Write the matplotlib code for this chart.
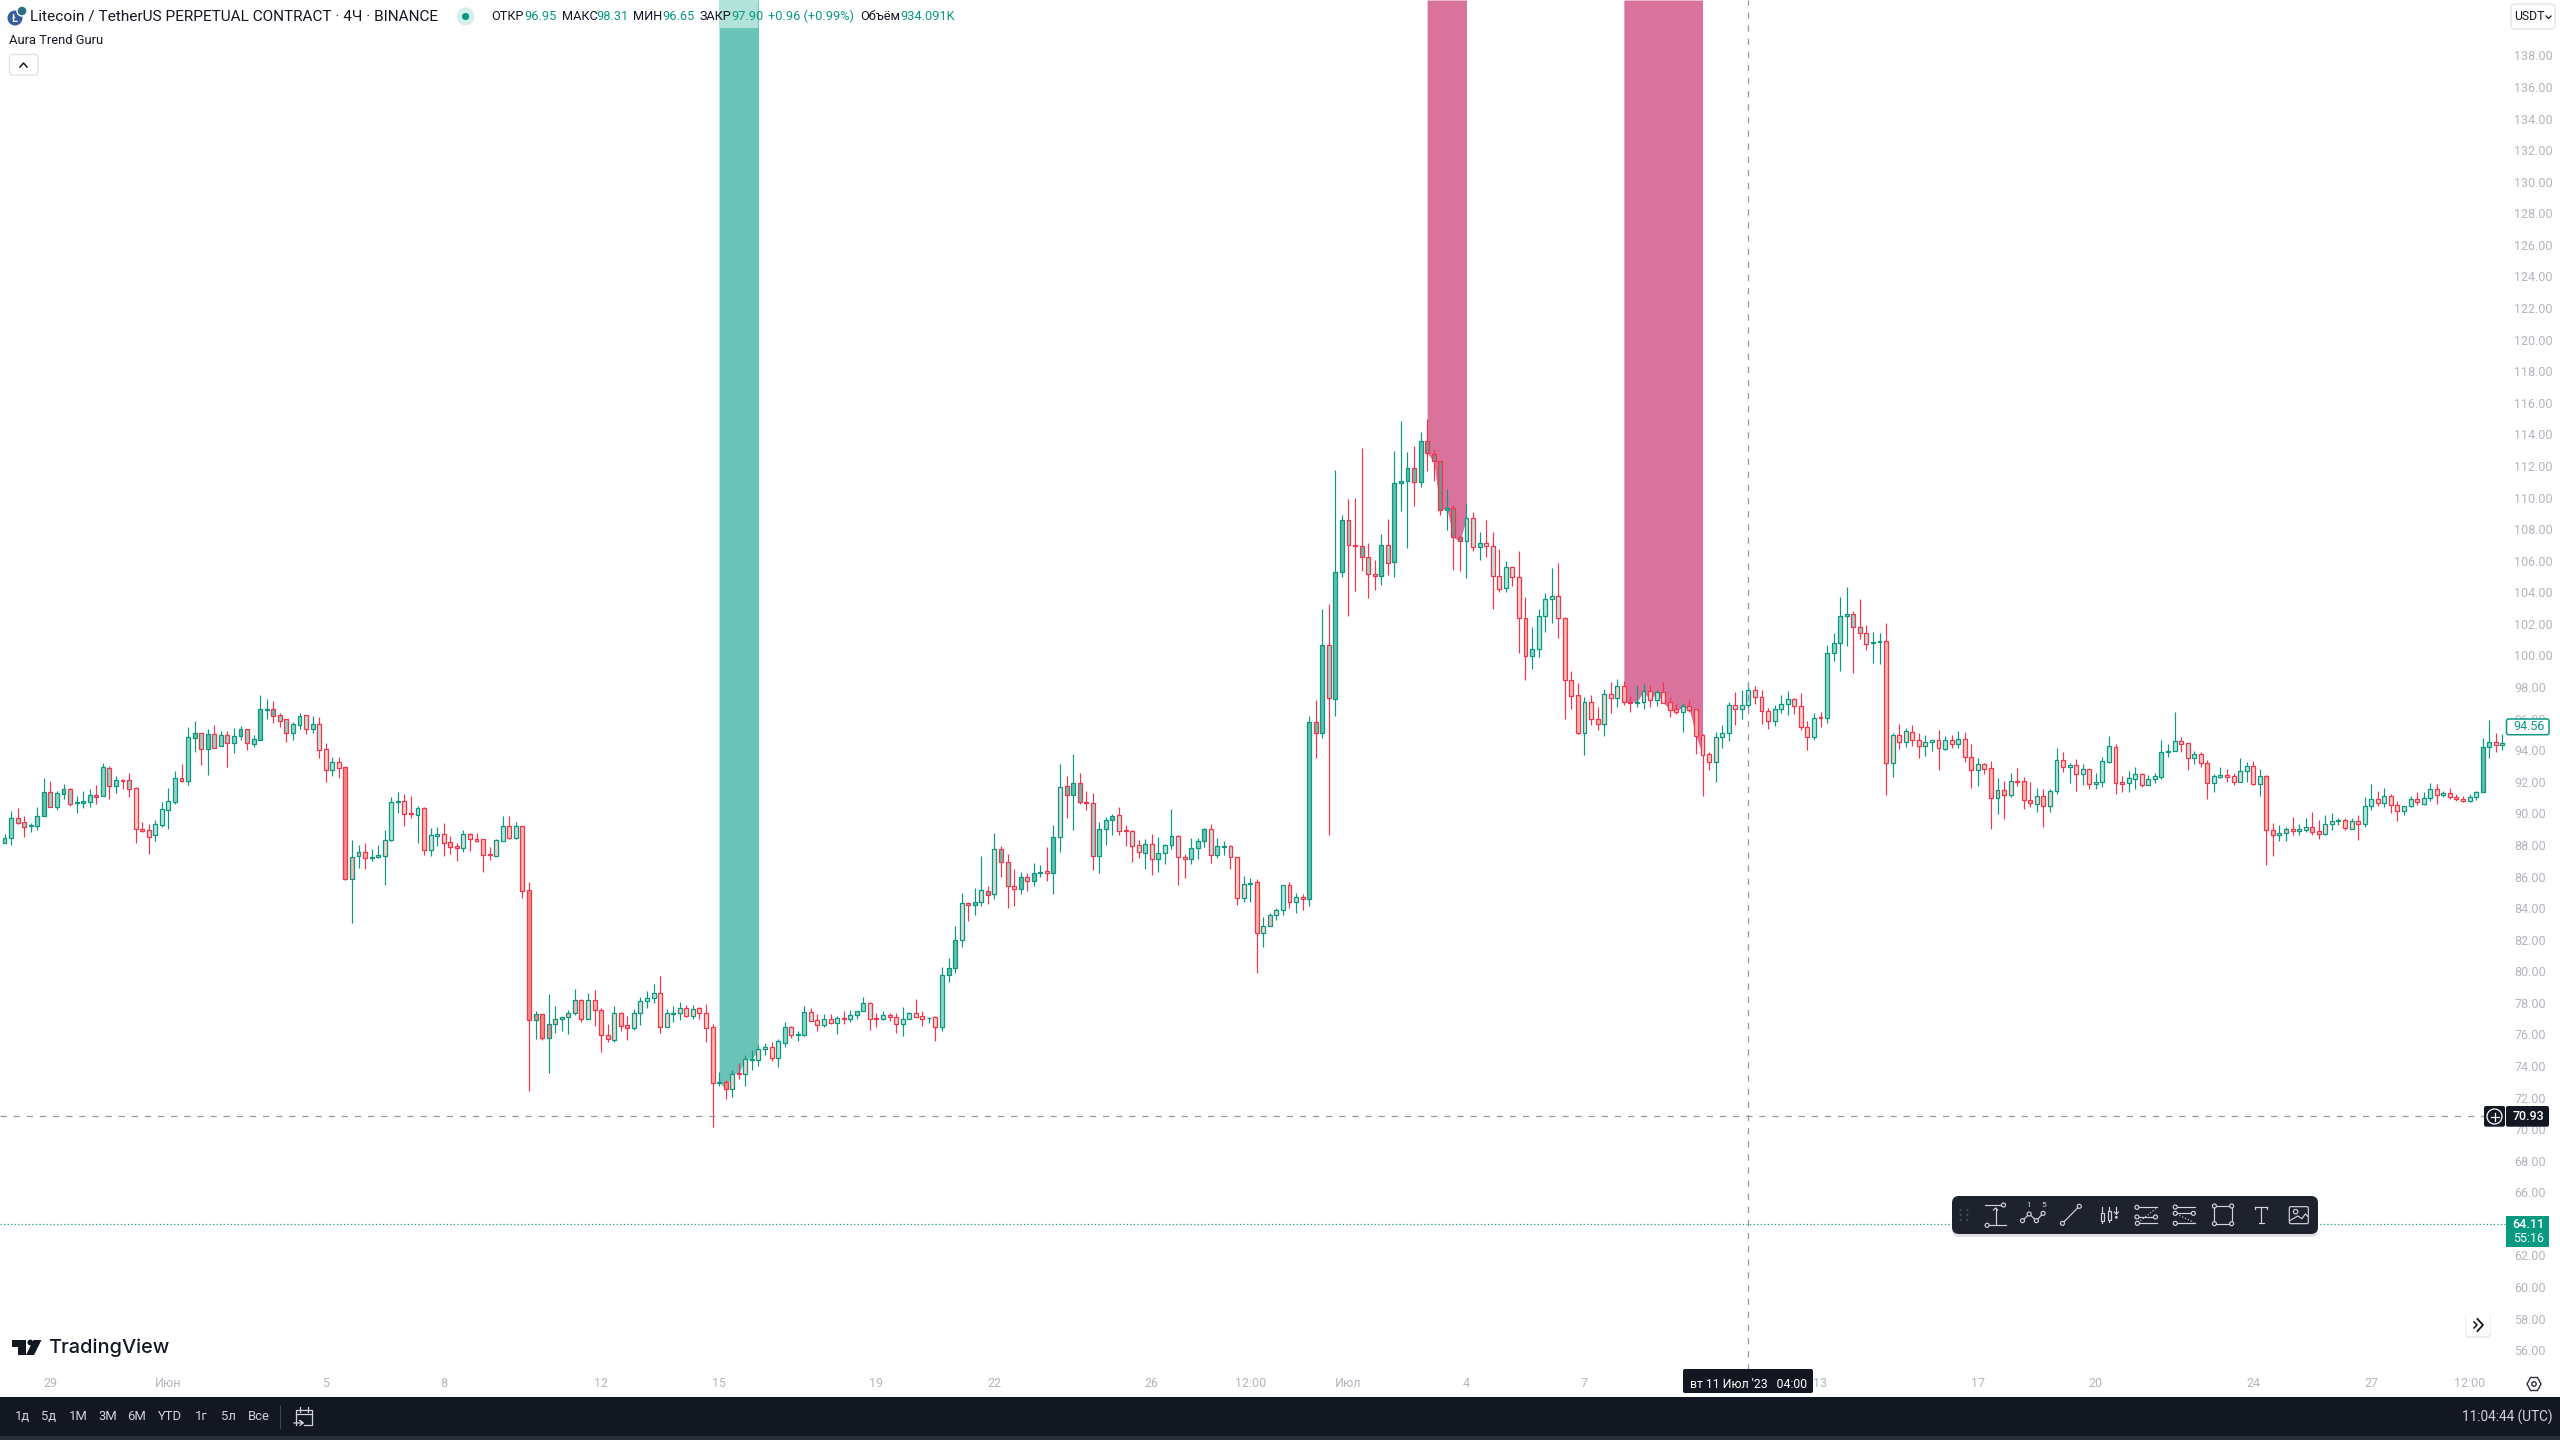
import matplotlib
matplotlib.use("Agg")
import matplotlib.pyplot as plt
from matplotlib.patches import FancyBboxPatch, Rectangle, Circle, Polygon

FONT = ['Roboto', 'DejaVu Sans']
plt.rcParams['font.family'] = FONT

highs = [
88.79,90.24,90.43,89.93,89.46,90.50,92.33,92.14,91.49,91.95,
91.70,91.19,91.51,91.64,91.89,93.28,93.09,92.46,92.29,92.65,
91.74,89.55,89.42,89.67,90.81,91.70,92.78,93.22,95.56,95.94,
95.16,95.42,95.69,95.31,95.31,95.50,95.63,95.42,95.06,97.59,
97.34,97.21,96.45,96.05,95.88,96.45,96.30,96.26,96.20,94.55,
93.64,93.66,93.01,88.41,88.09,88.22,87.84,88.09,89.04,91.13,
91.45,91.32,91.19,90.54,90.48,89.17,89.23,89.48,88.66,88.20,
89.04,88.85,88.85,88.45,87.96,88.45,89.93,89.93,89.53,89.27,
85.75,77.58,77.37,78.66,77.90,77.18,77.65,78.97,78.34,78.70,
78.91,77.75,76.76,77.90,77.50,77.24,77.71,78.45,78.85,79.29,
79.80,77.71,77.90,78.15,77.94,77.96,77.81,78.03,76.74,73.72,
73.21,73.84,74.27,74.79,75.09,75.41,75.55,75.62,75.81,76.86,
76.61,76.29,77.90,77.77,77.39,77.39,77.39,77.24,77.58,77.65,
77.56,78.47,78.13,77.43,77.58,77.43,77.43,77.81,77.50,78.34,
77.56,77.18,77.24,80.37,80.94,82.96,85.05,84.46,85.37,87.40,
85.50,88.85,88.03,87.50,86.57,86.36,86.30,86.93,86.82,87.96,
89.36,93.22,92.46,93.85,92.65,91.51,91.38,89.55,89.84,90.05,
90.50,89.36,89.04,88.41,88.47,88.79,88.60,88.15,90.37,88.72,
87.50,88.53,88.53,89.17,89.42,88.53,88.34,88.07,87.31,86.13,
86.00,85.94,83.55,83.78,84.10,85.54,85.75,85.05,84.99,96.26,
97.27,103.04,103.35,111.84,108.99,110.00,110.07,113.23,107.20,106.14,
107.77,108.74,113.04,114.94,112.98,113.36,114.25,115.07,113.17,112.39,
110.64,109.60,107.66,109.69,109.16,107.91,108.67,107.91,106.84,106.08,
105.68,106.71,103.80,101.90,103.04,104.05,105.63,105.95,102.51,99.11,
98.33,97.46,97.59,96.83,97.95,98.41,98.60,98.48,97.53,98.22,
98.29,98.22,97.91,98.41,97.46,97.02,97.06,97.27,96.70,95.12,
93.98,95.25,95.69,97.15,97.78,97.89,98.33,98.14,97.89,96.75,
96.96,97.59,97.83,97.40,97.72,95.95,96.45,96.52,100.76,101.52,
103.80,104.43,102.91,103.67,102.03,101.58,101.52,102.15,95.17,95.76,
95.50,95.69,95.19,95.06,94.72,95.38,95.00,95.06,95.31,95.23,
94.49,93.60,93.27,93.41,92.32,92.15,92.63,92.97,92.40,92.08,
91.68,91.64,91.62,94.24,93.98,93.27,93.52,93.22,92.88,92.63,
93.67,94.99,94.49,92.46,92.78,93.01,92.63,92.52,92.63,94.74,
94.47,96.51,94.93,94.57,94.04,93.98,93.45,92.57,93.03,92.90,
92.63,93.60,93.35,93.41,92.90,92.50,89.48,89.36,89.23,89.86,
89.42,89.80,90.18,89.67,89.99,90.12,89.80,89.80,89.80,89.99,
91.13,91.95,91.51,91.70,91.32,90.88,90.56,91.19,91.45,91.45,
92.02,91.95,91.51,91.70,91.30,91.19,91.32,91.49,94.84,96.01,
95.18,95.12]

body_tops = [
88.51,89.78,89.78,89.53,89.34,89.91,91.43,91.43,91.36,91.62,
91.62,90.79,90.86,91.24,91.24,93.01,92.95,92.19,92.21,92.19,
91.68,89.08,89.02,89.40,90.35,90.86,92.31,92.31,94.91,95.16,
95.16,95.10,95.10,95.04,95.04,94.97,95.42,95.42,94.78,96.68,
96.70,96.68,96.30,96.05,95.73,96.24,96.30,95.73,95.73,94.15,
93.33,93.33,93.01,87.31,87.63,87.63,87.35,87.44,88.39,90.79,
90.86,90.86,90.10,90.41,90.41,88.70,88.77,88.77,88.26,88.01,
88.77,88.77,88.49,88.45,87.50,88.39,89.27,89.27,89.27,89.27,
85.22,77.37,77.37,76.74,77.05,77.18,77.43,78.26,78.26,78.26,
78.26,77.62,76.08,77.43,77.43,76.67,77.43,78.19,78.38,78.70,
78.70,77.43,77.43,77.75,77.75,77.69,77.75,77.43,76.55,73.06,
73.06,73.61,73.63,74.52,74.52,75.15,75.28,75.28,75.66,76.55,
76.55,76.10,77.50,77.50,76.99,77.05,77.05,77.12,77.12,77.31,
77.56,78.07,78.07,77.12,77.31,77.31,77.18,77.05,77.43,77.43,
77.24,77.16,77.18,79.84,80.28,82.05,84.40,84.40,84.46,85.22,
85.16,87.82,87.82,87.00,85.48,86.05,86.05,86.30,86.36,86.42,
88.57,91.74,91.81,92.00,92.00,90.79,90.73,89.08,89.65,89.91,
89.97,89.02,88.96,88.07,88.13,88.13,87.56,88.07,88.64,88.64,
87.31,87.88,88.32,89.08,89.08,88.01,88.01,88.01,87.31,85.60,
85.71,85.73,82.94,83.64,83.95,85.54,85.54,84.78,84.78,95.86,
95.86,100.73,100.73,105.36,108.65,108.65,107.07,107.01,106.31,105.23,
107.07,107.07,110.99,111.12,111.95,111.95,113.66,113.66,112.83,112.39,
109.41,109.41,107.58,108.78,108.78,107.20,107.20,107.01,105.11,105.68,
105.68,105.04,102.45,100.48,102.57,103.65,103.84,103.84,102.45,98.52,
97.57,97.13,97.13,96.05,97.63,97.63,98.14,98.14,97.13,97.17,
97.82,97.82,97.76,97.76,97.13,96.68,96.87,96.87,96.70,95.04,
93.84,94.91,95.17,96.94,96.94,96.94,97.89,97.89,97.45,96.56,
96.69,97.00,97.32,97.32,96.88,95.55,96.12,96.18,100.23,100.87,
102.58,102.70,102.70,101.88,101.50,100.93,100.99,100.99,95.04,95.04,
95.29,95.23,94.72,94.60,94.72,94.72,94.72,94.72,94.79,94.79,
93.65,93.20,93.20,92.95,91.56,91.56,92.13,92.15,92.13,90.92,
91.17,91.17,91.49,93.46,93.46,93.14,93.14,92.88,92.88,92.06,
93.39,94.34,94.28,92.06,92.31,92.57,92.57,92.25,92.44,93.96,
94.02,94.66,94.66,94.53,93.83,93.83,93.26,92.44,92.50,92.50,
92.44,92.76,93.07,93.07,92.44,92.44,89.02,88.83,89.08,89.08,
89.08,89.21,89.21,88.96,89.40,89.59,89.65,89.65,89.59,89.59,
90.54,90.98,90.98,91.17,91.17,90.60,90.54,90.98,90.98,91.05,
91.62,91.62,91.36,91.36,91.11,90.98,91.11,91.43,94.28,94.59,
94.59,94.53]

body_bottoms = [
88.20,88.51,89.50,89.25,89.27,89.31,89.91,90.52,90.52,91.34,
90.71,90.73,90.77,90.83,91.15,91.17,91.81,91.85,92.17,91.66,
89.08,88.98,88.62,88.70,89.38,90.33,90.83,92.17,92.17,94.89,
94.15,94.15,94.25,94.34,94.57,94.57,94.97,94.53,94.51,94.76,
96.66,96.28,95.96,95.20,95.20,95.71,95.46,95.46,94.13,92.86,
92.86,92.99,85.96,85.96,87.37,87.29,87.29,87.35,87.41,88.43,
90.79,90.07,90.03,90.01,87.79,87.79,88.68,88.24,87.98,87.92,
87.92,88.49,88.36,87.48,87.44,87.41,88.36,88.55,88.55,85.20,
77.03,77.03,75.89,75.89,76.74,77.05,77.18,77.43,77.10,77.10,
77.62,76.08,75.83,75.77,76.65,76.53,76.53,77.43,78.19,78.38,
76.59,76.59,77.41,77.43,77.29,77.29,77.43,76.53,73.04,73.04,
72.66,72.66,73.61,73.61,74.50,74.50,75.15,74.63,74.63,75.58,
76.08,76.08,76.08,76.97,76.72,76.72,76.80,76.80,77.05,77.05,
77.31,77.56,77.10,77.10,77.10,77.18,76.74,76.74,77.05,77.22,
77.10,77.12,76.59,76.59,79.84,80.28,82.05,84.27,84.27,84.46,
84.95,84.97,87.00,85.48,85.33,85.33,85.83,85.83,86.30,86.30,
86.30,88.57,91.24,91.24,90.79,90.73,87.41,87.41,89.08,89.65,
89.00,88.96,88.05,87.63,87.56,87.18,87.18,87.56,88.07,87.31,
87.18,87.18,87.88,88.32,87.44,87.44,87.98,87.31,84.71,84.71,
85.64,82.50,82.50,82.94,83.64,83.95,84.46,84.46,84.65,84.65,
95.16,95.16,97.38,97.32,105.36,107.07,107.01,106.31,105.23,105.11,
105.11,105.93,105.99,110.99,111.12,111.06,111.06,112.90,112.39,109.29,
109.29,107.58,107.32,107.32,106.94,106.94,107.01,105.11,104.28,104.35,
105.04,102.45,100.04,100.04,100.48,102.57,103.65,102.45,98.52,97.55,
95.21,95.21,96.05,95.73,95.73,97.38,97.38,97.13,97.11,97.11,
97.17,97.25,97.25,97.11,96.66,96.54,96.54,96.66,95.00,93.81,
93.33,93.33,94.91,95.17,96.69,96.69,96.94,97.45,96.56,95.93,
95.93,96.69,97.00,96.88,95.55,94.91,94.91,96.12,96.12,100.23,
100.87,102.58,101.88,101.50,100.80,100.87,100.93,93.27,93.27,94.60,
94.60,94.72,94.34,94.34,94.60,94.22,94.17,94.47,94.47,93.65,
92.82,92.82,92.93,91.05,91.05,91.24,91.24,92.11,90.92,90.73,
90.67,90.54,90.54,91.49,93.01,93.01,92.57,92.57,91.93,91.93,
92.06,93.37,92.04,91.98,92.04,92.29,91.91,91.91,92.25,92.42,
93.96,94.02,94.47,93.62,93.62,93.26,92.04,92.04,92.42,92.42,
92.06,92.10,92.76,91.95,91.98,89.02,88.75,88.75,88.83,88.96,
88.96,89.06,88.93,88.81,88.81,89.40,89.59,89.15,89.08,89.40,
89.40,90.54,90.73,90.73,90.60,90.22,90.22,90.54,90.79,90.69,
91.05,91.24,91.24,91.11,90.98,90.86,90.86,91.11,91.43,94.28,
94.40,94.40]

lows = [
88.20,88.11,89.44,88.62,88.93,89.06,89.91,90.52,90.33,91.03,
90.58,90.14,90.45,90.52,90.69,91.17,91.00,91.38,91.64,91.13,
88.22,88.91,87.52,88.34,89.23,89.10,90.69,92.10,91.89,93.98,
93.16,92.52,94.25,94.34,93.03,93.92,94.74,94.11,94.30,94.76,
96.07,95.82,95.56,94.61,94.74,95.44,95.12,95.18,93.60,92.08,
92.46,92.33,85.87,83.15,86.63,86.57,87.08,87.29,85.56,88.34,
90.12,89.29,89.80,88.22,87.46,87.39,88.03,87.39,87.52,87.08,
87.65,87.71,88.28,86.38,87.14,87.41,88.36,88.47,88.47,84.73,
72.53,75.80,75.74,73.65,76.19,76.31,76.12,77.33,76.88,77.10,
76.63,74.98,75.64,75.64,76.31,75.74,76.40,76.72,77.77,78.09,
76.19,76.59,76.88,77.01,77.20,77.08,77.08,75.62,70.26,72.83,
72.01,72.13,73.27,72.83,73.84,74.10,74.79,74.44,74.03,75.32,
75.87,75.68,76.00,76.97,76.31,76.59,76.78,76.12,76.76,76.88,
77.08,77.56,76.38,76.57,77.01,76.95,76.19,76.00,77.05,77.22,
76.63,76.84,75.70,76.34,79.44,80.01,81.66,83.30,83.68,84.25,
84.36,84.69,86.09,84.13,84.25,85.01,85.20,85.52,86.08,85.83,
84.99,87.65,89.80,89.04,90.71,90.31,86.51,86.32,88.09,88.72,
88.72,88.03,87.01,87.27,86.57,86.19,86.38,86.89,87.84,85.56,
86.00,86.89,87.20,87.96,86.95,87.27,87.46,86.57,84.29,84.48,
84.48,79.98,81.63,82.94,83.34,83.64,84.10,83.78,83.98,84.23,
93.60,94.89,88.72,96.28,105.09,102.59,104.18,105.44,103.73,104.24,
104.56,105.19,105.06,109.24,106.92,109.56,110.76,111.78,111.14,108.99,
108.04,105.51,105.44,105.00,106.71,106.14,106.33,103.04,104.11,104.11,
104.49,100.25,98.54,99.24,100.00,101.58,102.15,101.20,96.07,96.70,
95.12,93.79,95.69,95.37,94.99,96.45,96.83,96.96,96.51,96.83,
96.70,96.83,96.89,97.11,96.20,96.39,95.25,96.54,93.85,91.20,
92.84,92.08,94.26,94.68,95.69,96.07,96.69,97.02,95.76,95.44,
95.63,96.45,96.33,96.39,95.38,94.11,94.74,95.57,95.82,99.75,
99.11,100.70,98.99,101.14,100.44,99.62,99.56,91.26,92.40,94.17,
94.30,94.36,93.60,93.73,94.05,92.84,94.11,94.24,94.24,93.35,
91.70,91.83,92.59,89.11,90.06,89.74,91.15,91.83,90.37,90.50,
90.18,89.23,90.18,91.32,92.72,92.02,91.51,91.89,91.64,91.64,
91.77,93.29,91.32,91.47,91.47,91.66,91.78,91.91,92.04,92.29,
93.66,94.02,93.98,92.84,93.22,93.03,91.00,91.47,92.36,92.10,
91.91,92.10,92.10,91.89,91.19,86.85,87.39,88.34,88.34,88.72,
88.72,88.91,88.72,88.49,88.75,89.06,89.36,89.06,89.08,88.41,
89.25,90.33,90.58,90.50,90.12,89.61,89.99,90.50,90.62,90.62,
90.90,90.69,91.13,90.98,90.88,90.81,90.84,90.96,91.43,93.60,
93.98,94.11]

directions = (
"GGRRGGGRGG" "RGGGRGRGRR" "RRRGGGGRGG" "RGRGRGGRGG" "GRRRGGRGRR"
"GRRGGRGGGG" "GRRGRGGRRR" "GRRRRGGRGR" "RGRGGGGGRG" "RRRGRRGGGG"
"RGGGRGRRRG" "RGRGGGGRGG" "RGGRRGRGRG" "GGRRGRRGGR" "RGRGGGGRGG"
"RGRRRGRGGR" "GGRGRRRGGG" "RRRRGRGGGR" "RGGGRGGRRG" "GRGGGGRGRG"
"RGRGGRRRRR" "GRGGGRGRRR" "GRRGRGRRRG" "RRRGGGGRRR" "RGRRGRGRRG"
"GRGRRRGRRR" "RGGGRGGRRR" "GGGRRRGRGG" "GGRRRGGRGR" "GRRGGRGRGR"
"RGRRGRGRRR" "GRGGRGRGRG" "GGRRGGRGGG" "GGRRGRRGGR" "RGGRGRRGGR"
"GGRRGGGRGR" "GGRGRRGGRG" "GRGRRRGGGG" "RG")

# Style of each candle body: -3 strong salmon ... 0 grey ... 3 strong teal, 9 dark (inside a band)
body_tones = [
2,2,2,2,3,2,3,2,2,3, 2,3,3,2,3,2,2,2,2,2, -1,-2,-1,1,1,1,2,2,2,3, 2,3,2,2,2,2,3,2,2,3,
2,3,2,2,2,2,1,2,1,-1, 1,-1,-3,-2,-2,-2,-2,-2,-1,1, 1,-1,-2,1,-2,0,0,-1,-2,-2, 0,-1,-1,-2,-2,-1,1,-1,1,-2,
-3,-3,-3,-3,-2,-2,-2,-2,-2,-1, -2,-2,-2,-1,-2,-2,0,0,1,1, -1,-1,-1,-1,-1,-1,-1,-1,-2,-1, -3,-1,-1,-1,-1,-1,-1,-1,1,2,
1,1,2,1,-1,1,-1,1,-1,1, 2,2,1,-1,1,-1,-1,1,1,1, -1,1,-1,2,3,3,0,2,3,0, 3,0,3,2,-1,3,2,3,3,-1,
3,0,3,3,3,-1,2,2,2,3, 1,1,1,1,2,1,2,1,2,1, 1,2,2,3,1,2,1,1,-1,-1, -1,-2,-1,-2,-1,1,-1,1,-1,3,
3,3,2,3,3,2,2,3,2,2, 3,2,3,3,3,3,3,9,9,9, 3,9,9,1,1,2,1,1,0,1, 0,-1,-2,2,1,1,1,1,-2,-2,
-2,-1,-1,-2,-1,-1,-1,-2,-1,-1, -1,-1,1,-1,-2,-2,1,-2,-2,-1, -1,-1,1,1,1,1,1,1,-1,-1, 1,1,1,1,-1,-1,1,-1,2,2,
2,2,2,2,1,1,1,-2,-1,-1, -1,-1,-1,-1,0,-1,1,-1,1,-1, -2,-1,-1,-2,-2,-2,-1,-1,-2,-2, -1,-2,-1,1,-1,-1,-1,0,-1,1,
1,1,-1,-1,1,1,0,1,1,2, 1,1,1,1,1,-1,-2,1,1,1, -1,0,1,-1,1,-2,-2,-1,-2,-1, -1,-1,-2,-2,-1,-1,-1,-1,-1,-1,
1,1,-1,1,-1,-1,1,1,-1,1, 1,-1,1,-1,-1,-1,1,1,3,2, -1,1]

price_ticks = list(range(56, 140, 2))
date_tick_candles = [7, 25, 49, 67, 91, 109, 133, 151, 175, 190, 205, 223, 241, 277, 301, 319, 343, 361, 376]
date_tick_labels = ["29", "Июн", "5", "8", "12", "15", "19", "22", "26", "12:00", "Июл", "4", "7", "13", "17", "20", "24", "27", "12:00"]
teal_bands = [(109, 115)]
pink_bands = [(217, 223), (247, 259)]
crosshair_candle = 266
crosshair_price = 70.93
current_price = 64.11

GREEN = '#089981'
RED = '#f7324a'
TONE = {3: '#62bdab', 2: '#8fd5c5', 1: '#bce6db', 0: '#dddcd7', -1: '#f7d3c9', -2: '#f5b8ad', -3: '#ee8e86', 9: '#78908f'}
GREY = '#b2b5be'
INK = '#131722'
DARK = '#131722'

W, H = 2560, 1440
fig = plt.figure(figsize=(W / 100, H / 100), dpi=100, facecolor='white')
PANE_R, PANE_B = 2506, 1370
ax = fig.add_axes([0, (H - PANE_B) / H, PANE_R / W, PANE_B / H])
PX_PER_CANDLE = 6.556
PX_PER_UNIT = 15.79
ax.set_xlim(-4.5 / PX_PER_CANDLE, (PANE_R - 4.5) / PX_PER_CANDLE)
y_top = 56 + 1351.7 / PX_PER_UNIT
ax.set_ylim(56 - (PANE_B - 1351.7) / PX_PER_UNIT, y_top)
for s in ax.spines.values():
    s.set_visible(False)

idx = list(range(len(highs)))
closes = [t if d == 'G' else b for t, b, d in zip(body_tops, body_bottoms, directions)]

for a, b in teal_bands:
    ax.fill_between(idx[a:b + 1], closes[a:b + 1], y_top, color='#69c3b7', lw=0, zorder=1)
for a, b in pink_bands:
    ax.fill_between(idx[a:b + 1], closes[a:b + 1], y_top, color='#da739c', lw=0, zorder=1)

edge = [GREEN if d == 'G' else RED for d in directions]
ax.vlines(idx, lows, highs, colors=edge, lw=0.85, zorder=2)
ax.bar(idx, [t - b for t, b in zip(body_tops, body_bottoms)], bottom=body_bottoms, width=0.6,
       color=[TONE[t] for t in body_tones], edgecolor=edge, linewidth=0.9, zorder=3)

ax.axhline(current_price, color=GREEN, lw=0.85, ls=(0, (1, 2)), zorder=4)
ax.axhline(crosshair_price, color='#9598a1', lw=0.9, ls=(0, (5, 5.5)), zorder=4)
ax.axvline(crosshair_candle, color='#9598a1', lw=0.9, ls=(0, (5, 5.5)), zorder=4)

ax.yaxis.tick_right()
ax.set_yticks(price_ticks)
ax.set_yticklabels([f"{p:.2f}" for p in price_ticks], va='center')
ax.set_xticks(date_tick_candles)
ax.set_xticklabels(date_tick_labels)
ax.tick_params(axis='y', length=0, pad=5.8, labelcolor=GREY, labelsize=9)
ax.tick_params(axis='x', length=0, pad=4.9, labelcolor=GREY, labelsize=9)

# Interface chrome, in screen pixels
ui = fig.add_axes([0, 0, 1, 1], zorder=5)
ui.set_xlim(0, W)
ui.set_ylim(H, 0)
ui.axis('off')
ui.patch.set_alpha(0)


def box(x0, y0, x1, y1, fc, ec='none', r=0, lw=1, z=2, alpha=None):
    if r:
        p = FancyBboxPatch((x0, y0), x1 - x0, y1 - y0, boxstyle=f"round,pad=0,rounding_size={r}",
                           fc=fc, ec=ec, lw=lw, zorder=z, alpha=alpha)
    else:
        p = Rectangle((x0, y0), x1 - x0, y1 - y0, fc=fc, ec=ec, lw=lw, zorder=z, alpha=alpha)
    ui.add_patch(p)


def txt(x, y, s, color=INK, size=9, ha='left', weight='normal', z=6, family=None):
    ui.text(x, y, s, color=color, fontsize=size, ha=ha, va='center', fontweight=weight, zorder=z,
            family=family or FONT)


# legend strip on teal band
box(719, 0, 758, 27.5, '#b3e2da', z=1)

# header
ui.add_patch(Circle((15, 18), 7.5, fc='#345d9d', zorder=3))
ui.add_patch(Circle((22, 11), 5, fc='#2f6f86', ec='white', lw=1, zorder=4))
txt(15, 18.5, 'Ł', 'white', 7.5, 'center', 'bold')
txt(30.5, 16.5, 'Litecoin / TetherUS PERPETUAL CONTRACT · 4Ч · BINANCE', INK, 11.1)
ui.add_patch(Circle((465.6, 16.5), 9, fc='#d6efea', zorder=3))
ui.add_patch(Circle((465.6, 16.5), 3.6, fc=GREEN, zorder=4))
for x, s, c in [(491, 'ОТКР', INK), (524, '96.95', GREEN), (562, 'МАКС', INK), (596, '98.31', GREEN),
                (633, 'МИН', INK), (662, '96.65', GREEN), (700, 'ЗАКР', INK), (731, '97.90', GREEN),
                (768.5, '+0.96 (+0.99%)', GREEN), (860, 'Объём', INK), (900.5, '934.091K', GREEN)]:
    txt(x, 16.5, s, c, 9.2)
txt(9, 41, 'Aura Trend Guru', INK, 9.3)
box(9.5, 54.5, 38, 75, 'white', '#e0e3eb', r=3, lw=1)
ui.plot([20, 23.5, 27], [67, 63, 67], color=INK, lw=1.1, zorder=5)

# USDT button
box(2511, 4, 2555, 29, 'white', '#e0e3eb', r=4, lw=1)
txt(2514.5, 17, 'USDT', INK, 8.8)
ui.plot([2546, 2548.5, 2551], [16, 18.5, 16], color=INK, lw=0.9, zorder=6)

# price labels
box(2506.5, 719, 2549, 734.7, 'white', GREEN, r=2, lw=1.1, z=4)
txt(2529, 727, '94.56', GREEN, 9, 'center')
box(2484, 1106, 2505, 1126.7, DARK, r=2, z=4)
ui.add_patch(Circle((2494.5, 1116.5), 7.5, fc='none', ec='white', lw=0.9, zorder=5))
ui.plot([2490.5, 2498.5], [1116.5, 1116.5], color='white', lw=0.9, zorder=5)
ui.plot([2494.5, 2494.5], [1112.5, 1120.5], color='white', lw=0.9, zorder=5)
box(2506, 1106, 2549, 1126.7, DARK, r=2, z=4)
txt(2528.5, 1116.5, '70.93', 'white', 9, 'center', 'medium')
box(2506, 1216, 2549, 1246.7, GREEN, z=4)
txt(2528.5, 1224.5, '64.11', 'white', 9, 'center', 'medium')
txt(2528.5, 1238.5, '55:16', 'white', 9, 'center')

# expand button
box(2465, 1313, 2491, 1338, '#000000', r=4, z=3, alpha=0.07)
box(2466, 1312, 2490, 1336, 'white', r=4, z=4)
ui.plot([2474, 2477, 2474], [1322, 1325, 1328], color=INK, lw=1.1, zorder=5)
ui.plot([2477.5, 2483, 2477.5], [1319, 1325, 1331], color=INK, lw=1.3, zorder=5)

# floating toolbar
box(1952, 1198, 2318, 1237, '#000000', r=7, z=3, alpha=0.12)
box(1952, 1196, 2318, 1234, '#1e222d', r=7, z=4)
IC = '#d1d4dc'


def tx(z):
    return 1900 + z / 2.376


def ty(z):
    return 1090 + z / 3


def iline(pts, lw=0.85, ls='-'):
    ui.plot([tx(p[0]) for p in pts], [ty(p[1]) for p in pts], color=IC, lw=lw, ls=ls, zorder=5)


def idot(x, y, r=2.0):
    ui.add_patch(Circle((tx(x), ty(y)), r, fc='#1e222d', ec=IC, lw=0.85, zorder=6))


for gx in (144, 160):
    for gy in (360, 375, 390):
        ui.add_patch(Circle((tx(gx), ty(gy)), 1.1, fc='#4a4e5a', zorder=5))
iline([(202, 345), (246, 345)]); iline([(207, 406), (252, 406)]); iline([(227, 355), (227, 406)])
iline([(222, 360), (227, 354), (232, 360)]); idot(246, 345); idot(207, 406)
iline([(291, 392), (307, 372), (324, 392), (340, 370)])
for p in [(291, 392), (307, 372), (324, 392), (340, 370)]:
    idot(*p)
txt(tx(306), ty(345), '1', IC, 6, 'center'); txt(tx(342), ty(345), '5', IC, 6, 'center')
iline([(386, 400), (426, 349)]); idot(386, 400); idot(426, 349)
iline([(481, 350), (481, 400)]); ui.add_patch(Rectangle((tx(478), ty(368)), 3, 8, fc='#1e222d', ec=IC, lw=0.85, zorder=6))
iline([(497, 350), (497, 395)]); ui.add_patch(Rectangle((tx(494), ty(362)), 3, 9, fc='#1e222d', ec=IC, lw=0.85, zorder=6))
iline([(514, 350), (514, 372)]); iline([(509, 366), (514, 372), (519, 366)])
ui.add_patch(Circle((tx(514), ty(382)), 1.4, fc=IC, zorder=6))
iline([(563, 352), (610, 352)]); iline([(563, 381), (608, 381)]); iline([(565, 400), (610, 400)])
iline([(565, 398), (608, 356)], ls=':')
for p in [(563, 352), (607, 381), (563, 381), (564, 400)]:
    idot(*p)
iline([(655, 351), (700, 351)]); iline([(655, 370), (697, 370)]); iline([(655, 400), (700, 400)])
iline([(657, 372), (698, 397)], ls=':')
for p in [(654, 351), (654, 370), (697, 370), (654, 400)]:
    idot(*p)
iline([(747, 348), (788, 348), (788, 401), (747, 401), (747, 348)])
for p in [(747, 348), (788, 348), (788, 401), (747, 401)]:
    idot(*p)
iline([(843, 350), (873, 350)]); iline([(858, 350), (858, 400)]); iline([(852, 400), (865, 400)])
iline([(843, 350), (843, 357)]); iline([(873, 350), (873, 357)])
ui.add_patch(FancyBboxPatch((tx(925), ty(350)), 19, 17, boxstyle="round,pad=0,rounding_size=1.5", fc='none', ec=IC, lw=0.85, zorder=5))
idot(940, 365, 2.2)
iline([(926, 392), (945, 378), (955, 386), (963, 372), (970, 380)])

# settings
ui.add_patch(Polygon([(2534 + dx, 1384 + dy) for dx, dy in [(-7, 0), (-3.5, -6.5), (3.5, -6.5), (7, 0), (3.5, 6.5), (-3.5, 6.5)]],
                     fc='none', ec='#2a2e39', lw=1.0, zorder=5))
ui.add_patch(Circle((2534, 1384), 2.2, fc='none', ec='#2a2e39', lw=1.0, zorder=5))

# TradingView logo
ui.add_patch(Rectangle((12, 1340), 13.5, 7, fc=INK, zorder=5))
ui.add_patch(Rectangle((18, 1340), 7.5, 15, fc=INK, zorder=5))
ui.add_patch(Circle((30.3, 1342.5), 2.9, fc=INK, zorder=5))
ui.add_patch(Polygon([(33.5, 1340), (41.5, 1340), (34, 1355), (26, 1355)], fc=INK, zorder=5))
txt(48, 1348, 'TradingView', INK, 14.4, weight='medium', family=['Inter', 'DejaVu Sans'])

# date label
box(1683, 1369, 1813, 1393, DARK, r=2, z=4)
txt(1748.5, 1384, "вт 11 Июл '23   04:00", 'white', 8.8, 'center')

# bottom bar
box(0, 1397, W, 1440, DARK, z=3)
box(0, 1436, W, 1440, '#2a2e39', z=4)
for x, s in [(22, '1д'), (49, '5д'), (78.6, '1М'), (107.6, '3М'), (137, '6М'), (170, 'YTD'), (201, '1г'), (228, '5л'), (259, 'Все')]:
    txt(x, 1417, s, '#d1d4dc', 9.4, 'center')
ui.plot([280, 280], [1406, 1428], color='#434651', lw=0.8, zorder=5)
ui.plot([296, 296, 312, 312, 304], [1425, 1410, 1410, 1425, 1425], color='#d1d4dc', lw=0.9, zorder=5)
ui.plot([296, 312], [1414, 1414], color='#d1d4dc', lw=0.9, zorder=5)
ui.plot([300, 300], [1407, 1412], color='#d1d4dc', lw=0.9, zorder=5)
ui.plot([308, 308], [1407, 1412], color='#d1d4dc', lw=0.9, zorder=5)
ui.plot([294, 303, 300, 303, 300], [1423, 1423, 1420.5, 1423, 1425.5], color='#d1d4dc', lw=0.9, zorder=6)
txt(2553, 1417, '11:04:44 (UTC)', '#d1d4dc', 9.8, 'right')

fig.savefig('out.png', dpi=100, facecolor='white')
